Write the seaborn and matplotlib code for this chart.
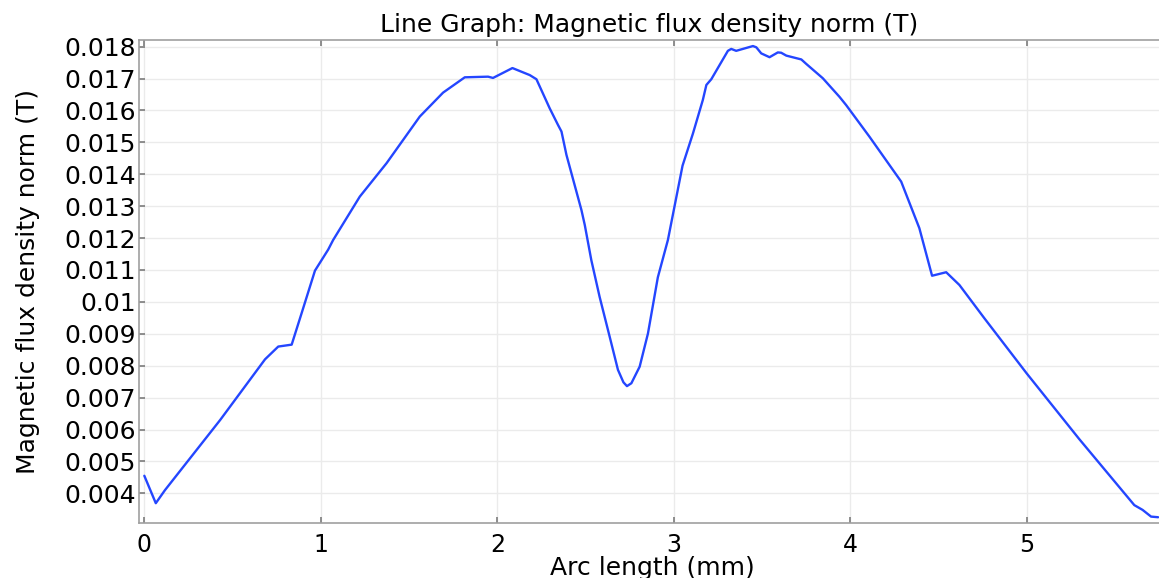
import numpy as np
import pandas as pd
import seaborn as sns
import matplotlib
matplotlib.use("Agg")
import matplotlib.pyplot as plt
from matplotlib.ticker import FuncFormatter

# Arc length along the cut line (mm)
arc_length = [
    0.0, 0.065, 0.117, 0.43, 0.684, 0.759, 0.835, 0.891, 0.967, 1.042,
    1.07, 1.221, 1.373, 1.467, 1.561, 1.693, 1.816, 1.948, 1.976, 2.086,
    2.184, 2.222, 2.297, 2.344, 2.364, 2.392, 2.477, 2.496, 2.533, 2.58,
    2.637, 2.684, 2.715, 2.735, 2.76, 2.807, 2.854, 2.91, 2.967, 3.05,
    3.109, 3.165, 3.185, 3.213, 3.307, 3.326, 3.354, 3.449, 3.468, 3.496,
    3.543, 3.59, 3.609, 3.638, 3.723, 3.751, 3.845, 3.939, 3.977, 4.109,
    4.289, 4.392, 4.464, 4.544, 4.619, 4.76, 5.0, 5.298, 5.61, 5.657,
    5.705, 5.745,
]

# Magnetic flux density norm (T)
flux_density = [
    0.00455, 0.00369, 0.0041, 0.0063, 0.0082, 0.0086, 0.00866, 0.00964, 0.01098, 0.01164,
    0.01194, 0.0133, 0.01435, 0.01508, 0.01581, 0.01656, 0.01704, 0.01706, 0.01702, 0.01733,
    0.01711, 0.01698, 0.01607, 0.01555, 0.01534, 0.01461, 0.01288, 0.01241, 0.01131, 0.01016,
    0.00891, 0.00787, 0.00748, 0.00736, 0.00745, 0.00797, 0.00901, 0.01077, 0.01194, 0.01427,
    0.01528, 0.01633, 0.0168, 0.01698, 0.01787, 0.01793, 0.01787, 0.01802, 0.01798, 0.01779,
    0.01767, 0.01782, 0.01781, 0.01772, 0.0176, 0.01746, 0.01701, 0.01643, 0.01617, 0.01518,
    0.01377, 0.01231, 0.01082, 0.01093, 0.01053, 0.00949, 0.00776, 0.0057, 0.00363, 0.00348,
    0.00327, 0.00325,
]

y_ticks = [0.004, 0.005, 0.006, 0.007, 0.008, 0.009, 0.010, 0.011,
           0.012, 0.013, 0.014, 0.015, 0.016, 0.017, 0.018]
x_ticks = [0, 1, 2, 3, 4, 5]

df = pd.DataFrame({"arc": arc_length, "B": flux_density})

sns.set_theme(style="white")
plt.rcParams["font.family"] = ["DejaVu Sans"]
plt.rcParams["text.color"] = "black"
plt.rcParams["axes.labelcolor"] = "black"

W, H = 1159, 578
fig = plt.figure(figsize=(W / 100, H / 100), dpi=100)
ax_left, ax_bottom, ax_top = 138.5, 523.3, 40.3
ax = fig.add_axes([ax_left / W, (H - ax_bottom) / H,
                   (W - ax_left) / W, (ax_bottom - ax_top) / H])

sns.lineplot(data=df, x="arc", y="B", ax=ax, color="#2446ff",
             linewidth=1.7, sort=False, estimator=None)

ax.set_xlim(-0.033, 5.75)
ax.set_ylim(0.00306, 0.0182)
ax.set_xticks(x_ticks)
ax.set_yticks(y_ticks)
ax.yaxis.set_major_formatter(FuncFormatter(lambda v, _: f"{v:.3f}".rstrip("0")))
ax.xaxis.set_major_formatter(FuncFormatter(lambda v, _: f"{v:g}"))

ax.grid(True, color="#ebebeb", linewidth=1.0)
ax.set_axisbelow(True)

for side in ("left", "bottom", "top"):
    ax.spines[side].set_color("#a0a0a0")
    ax.spines[side].set_linewidth(1.2)
ax.spines["right"].set_visible(False)

ax.tick_params(axis="both", which="major", direction="in", length=4,
               color="#808080", labelcolor="black",
               top=True, left=True, bottom=True)
ax.tick_params(axis="y", pad=2, labelsize=18)
ax.tick_params(axis="x", pad=7, labelsize=17)

ax_w = W - ax_left
ax_h = ax_bottom - ax_top

ax.set_title("Line Graph: Magnetic flux density norm (T)", fontsize=18, pad=6)

ax.set_xlabel("Arc length (mm)", fontsize=18)
ax.xaxis.label.set_va("baseline")
ax.xaxis.set_label_coords((652 - ax_left) / ax_w, (ax_bottom - 575) / ax_h)

ax.set_ylabel("Magnetic flux density norm (T)", fontsize=18)
ax.yaxis.set_label_coords((40 - ax_left) / ax_w, (ax_bottom - 282) / ax_h)

fig.savefig("out.png", dpi=100)
